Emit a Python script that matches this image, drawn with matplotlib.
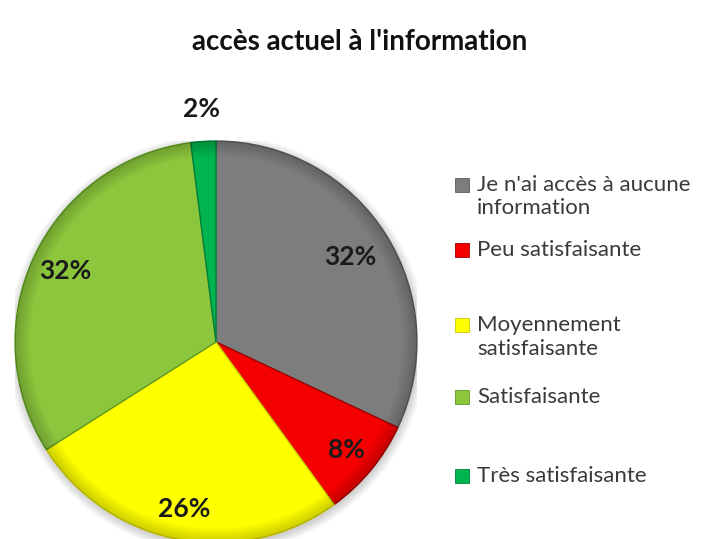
import numpy as np
import matplotlib.pyplot as plt
from matplotlib.patches import Rectangle, Circle, Wedge

plt.rcParams['font.family'] = ['Lato', 'DejaVu Sans']

categories = ["Je n'ai accès à aucune\ninformation", "Peu satisfaisante",
              "Moyennement\nsatisfaisante", "Satisfaisante", "Très satisfaisante"]
shares = [32, 8, 26, 32, 2]
colors = ['#7d7d7d', '#f50000', '#ffff00', '#8cc63c', '#00b44e']
edge_colors = ['#5a5a5a', '#a00000', '#c8c800', '#5f9a25', '#00803a']
title = "accès actuel à l'information"

# label distance from the centre, per slice (in pie radii)
label_r = [0.79, 0.84, 0.845, 0.83, 1.16]
# legend line centres (figure pixels from top), one list per entry
legend_y = [[185, 208], [250], [325, 349], [397], [476]]

W, H = 707, 539
fig = plt.figure(figsize=(W / 100, H / 100), dpi=100)
fig.patch.set_facecolor('white')

cx, cy, rad = 216, 342, 201
ax = fig.add_axes([(cx - rad) / W, (H - cy - rad) / H, 2 * rad / W, 2 * rad / H])

# soft shadow behind the pie
for k in range(8):
    ax.add_patch(Circle((0.005, -0.012), 1.0 + 0.006 * k, color='black',
                        alpha=0.025, zorder=0, lw=0))

wedges, _ = ax.pie(shares, colors=colors, startangle=90, counterclock=False,
                   radius=1.0, wedgeprops=dict(linewidth=1.0))
for w, ec in zip(wedges, edge_colors):
    w.set_edgecolor(ec)
    w.set_zorder(2)

# slight bevel darkening towards the rim
for k in range(6):
    ax.add_patch(Wedge((0, 0), 1.0, 0, 360, width=0.012 * (k + 1), color='black',
                       alpha=0.03, lw=0, zorder=3))

for w, s, r in zip(wedges, shares, label_r):
    ang = np.deg2rad((w.theta1 + w.theta2) / 2)
    ax.text(r * np.cos(ang), r * np.sin(ang), f'{s}%', ha='center', va='center',
            fontsize=19, fontweight='bold', color='#1a1a1a', zorder=5)

ax.set_xlim(-1, 1)
ax.set_ylim(-1, 1)
ax.set_aspect('equal')
ax.axis('off')

fig.text(360 / W, 1 - 42 / H, title, ha='center', va='center',
         fontsize=20, fontweight='bold', color='#111111')

for lab, col, ec, ys in zip(categories, colors, edge_colors, legend_y):
    fig.patches.append(Rectangle((455 / W, 1 - (ys[0] + 7) / H), 14 / W, 14 / H,
                                 facecolor=col, edgecolor=ec, lw=0.6,
                                 transform=fig.transFigure, figure=fig))
    for line, y in zip(lab.split('\n'), ys):
        fig.text(477 / W, 1 - y / H, line, ha='left', va='center',
                 fontsize=16, color='#3a3a3a')

fig.savefig('out.png', dpi=100)
